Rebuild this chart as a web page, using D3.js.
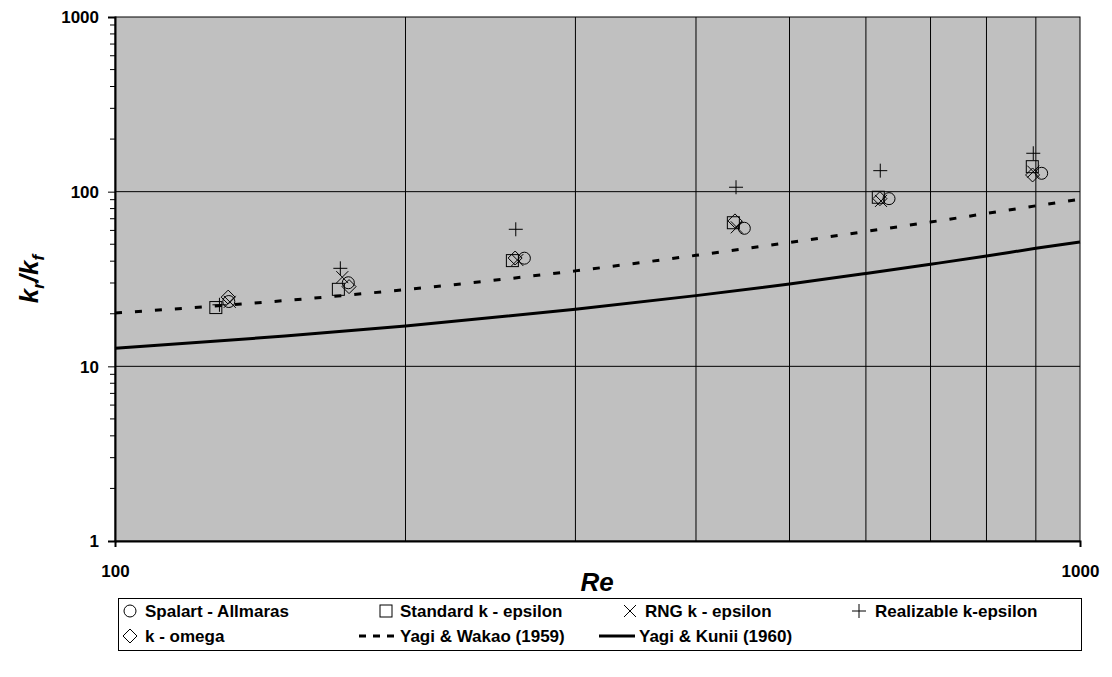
<!DOCTYPE html>
<meta charset="utf-8">
<style>
body { margin: 0; background: #fff; }
text { font-family: "Liberation Sans", Arial, sans-serif; font-weight: bold; fill: #000; }
.grid line { stroke: #000; stroke-width: 1; }
.mark { fill: none; stroke: #000; stroke-width: 1; }
</style>
<div class="chart"></div>
<script src="https://cdnjs.cloudflare.com/ajax/libs/d3/7.8.5/d3.min.js"></script>
<script>

// Reynolds numbers of the CFD runs (one group per case)
var spalartRe  = [131.2, 174.5, 265.6, 448.9, 634.0, 912.6];
var spalartK   = [23.5, 30.1, 41.6, 61.7, 91.2, 127.4];
var standardRe = [127.2, 170.4, 258.1, 437.3, 618.0, 892.4];
var standardK  = [21.7, 27.6, 40.3, 66.4, 92.9, 139.0];
var rngRe      = [131.5, 172.0, 261.2, 440.9, 622.0, 894.5];
var rngK       = [23.4, 32.4, 40.6, 62.5, 88.5, 130.2];
var realRe     = [128.3, 171.2, 260.2, 440.1, 620.9, 894.5];
var realK      = [22.5, 36.4, 60.9, 106.0, 131.9, 165.9];
var omegaRe    = [131.0, 174.8, 259.8, 439.0, 620.4, 893.0];
var omegaK     = [24.9, 28.6, 41.7, 68.0, 91.2, 124.6];

// correlations
var corrRe   = [100, 150, 200, 300, 400, 500, 600, 700, 800, 900, 1000];
var wakaoK   = [20.2, 23.8, 27.5, 35.2, 43.2, 51.2, 59.2, 67.0, 75.0, 83.0, 90.5];
var kuniiK   = [12.7, 14.9, 17.0, 21.2, 25.4, 29.6, 34.0, 38.4, 42.8, 47.4, 51.5];

var yTicks = [1, 10, 100, 1000];
var xTicks = [100, 1000];
var xGrid  = [200, 300, 400, 500, 600, 700, 800, 900];
var yGrid  = [10, 100];

var width = 1112, height = 677;
var pLeft = 115, pRight = 1080, pTop = 17, pBottom = 541;

var svg = d3.select(".chart").append("svg")
    .attr("width", width)
    .attr("height", height);

var x = d3.scaleLog().domain([100, 1000]).range([pLeft, pRight]);
var y = d3.scaleLog().domain([1, 1000]).range([pBottom, pTop]);

// plot background
svg.append("rect")
    .attr("x", pLeft).attr("y", pTop)
    .attr("width", pRight - pLeft).attr("height", pBottom - pTop)
    .attr("fill", "#c0c0c0");

// grid lines
var grid = svg.append("g").attr("class", "grid");
grid.selectAll(".gx").data(xGrid).enter().append("line")
    .attr("x1", function(d) { return x(d); }).attr("x2", function(d) { return x(d); })
    .attr("y1", pTop).attr("y2", pBottom);
grid.selectAll(".gy").data(yGrid).enter().append("line")
    .attr("x1", pLeft).attr("x2", pRight)
    .attr("y1", function(d) { return y(d); }).attr("y2", function(d) { return y(d); });

// border
svg.append("rect")
    .attr("x", pLeft).attr("y", pTop)
    .attr("width", pRight - pLeft).attr("height", pBottom - pTop)
    .attr("fill", "none").attr("stroke", "#000").attr("stroke-width", 1);

// y axis: major + minor ticks
var yMinor = [];
for (var dec = 1; dec < 1000; dec *= 10) {
  for (var m = 2; m <= 9; m++) yMinor.push(dec * m);
}
var yAxis = svg.append("g")
    .attr("transform", "translate(" + pLeft + ",0)")
    .call(d3.axisLeft(y).tickValues(yTicks).tickSize(7).tickFormat(d3.format("d")));
yAxis.selectAll("text").attr("x", -16).attr("dy", "0.35em").style("font-size", "17px");
yAxis.select(".domain").attr("stroke-width", 2);
yAxis.selectAll(".minor").data(yMinor).enter().append("line")
    .attr("x1", -5).attr("x2", 0)
    .attr("y1", function(d) { return y(d); }).attr("y2", function(d) { return y(d); })
    .attr("stroke", "#000");

// x axis
var xAxis = svg.append("g")
    .attr("transform", "translate(0," + pBottom + ")")
    .call(d3.axisBottom(x).tickValues(xTicks).tickSize(6).tickFormat(d3.format("d")));
xAxis.selectAll("text").attr("y", 24).style("font-size", "17px");
xAxis.select(".domain").attr("stroke-width", 2);
svg.selectAll(".tick line").attr("stroke", "#000");
svg.selectAll(".domain").attr("stroke", "#000");

// axis titles
svg.append("text")
    .attr("x", 597).attr("y", 591)
    .attr("text-anchor", "middle")
    .style("font-size", "26px").style("font-style", "italic")
    .text("Re");

var yt = svg.append("text")
    .attr("transform", "translate(38," + ((pTop + pBottom) / 2) + ") rotate(-90)")
    .attr("text-anchor", "middle")
    .style("font-size", "26px").style("font-style", "italic");
yt.append("tspan").text("k");
yt.append("tspan").attr("dy", 6).style("font-size", "17px").text("r");
yt.append("tspan").attr("dy", -6).text("/k");
yt.append("tspan").attr("dy", 6).style("font-size", "17px").text("f");

// correlation curves
var line = d3.line().curve(d3.curveMonotoneX);
var plot = svg.append("g");
plot.append("path")
    .attr("d", line(corrRe.map(function(d, i) { return [x(d), y(wakaoK[i])]; })))
    .attr("fill", "none").attr("stroke", "#000").attr("stroke-width", 3)
    .attr("stroke-dasharray", "7,13");
plot.append("path")
    .attr("d", line(corrRe.map(function(d, i) { return [x(d), y(kuniiK[i])]; })))
    .attr("fill", "none").attr("stroke", "#000").attr("stroke-width", 3);

// marker shapes
function drawMarker(g, kind, cx, cy) {
  if (kind === "circle") {
    g.append("circle").attr("class", "mark").attr("cx", cx).attr("cy", cy).attr("r", 6);
  } else if (kind === "square") {
    g.append("rect").attr("class", "mark").attr("x", cx - 6).attr("y", cy - 6).attr("width", 12).attr("height", 12);
  } else if (kind === "diamond") {
    g.append("path").attr("class", "mark")
        .attr("d", "M" + cx + "," + (cy - 7) + "L" + (cx + 7) + "," + cy + "L" + cx + "," + (cy + 7) + "L" + (cx - 7) + "," + cy + "Z");
  } else if (kind === "cross") {
    g.append("path").attr("class", "mark")
        .attr("d", "M" + (cx - 6) + "," + (cy - 6) + "L" + (cx + 6) + "," + (cy + 6) + "M" + (cx + 6) + "," + (cy - 6) + "L" + (cx - 6) + "," + (cy + 6));
  } else if (kind === "plus") {
    g.append("path").attr("class", "mark")
        .attr("d", "M" + (cx - 7) + "," + cy + "L" + (cx + 7) + "," + cy + "M" + cx + "," + (cy - 7) + "L" + cx + "," + (cy + 7));
  }
}

var series = [
  {kind: "circle",  re: spalartRe,  k: spalartK},
  {kind: "square",  re: standardRe, k: standardK},
  {kind: "cross",   re: rngRe,      k: rngK},
  {kind: "plus",    re: realRe,     k: realK},
  {kind: "diamond", re: omegaRe,    k: omegaK}
];
series.forEach(function(s) {
  s.re.forEach(function(d, i) { drawMarker(plot, s.kind, x(d), y(s.k[i])); });
});

// legend
var legend = svg.append("g");
legend.append("rect")
    .attr("x", 118.5).attr("y", 598.5).attr("width", 963).attr("height", 52)
    .attr("fill", "#fff").attr("stroke", "#000").attr("stroke-width", 1);

var legendItems = [
  {kind: "circle",  label: "Spalart - Allmaras",   sx: 130, tx: 145, row: 0},
  {kind: "square",  label: "Standard k - epsilon", sx: 386, tx: 400, row: 0},
  {kind: "cross",   label: "RNG k - epsilon",      sx: 630, tx: 645, row: 0},
  {kind: "plus",    label: "Realizable k-epsilon", sx: 859, tx: 875, row: 0},
  {kind: "diamond", label: "k - omega",            sx: 130, tx: 145, row: 1},
  {kind: "dash",    label: "Yagi & Wakao (1959)",  sx: 376, tx: 400, row: 1},
  {kind: "solid",   label: "Yagi & Kunii (1960)",  sx: 617, tx: 639, row: 1}
];
legendItems.forEach(function(d) {
  var cy = d.row === 0 ? 611 : 636;
  if (d.kind === "dash") {
    legend.append("line").attr("x1", d.sx - 17).attr("x2", d.sx + 18).attr("y1", cy).attr("y2", cy)
        .attr("stroke", "#000").attr("stroke-width", 3).attr("stroke-dasharray", "7,7");
  } else if (d.kind === "solid") {
    legend.append("line").attr("x1", d.sx - 18).attr("x2", d.sx + 18).attr("y1", cy).attr("y2", cy)
        .attr("stroke", "#000").attr("stroke-width", 3);
  } else {
    drawMarker(legend, d.kind, d.sx, cy);
  }
  legend.append("text").attr("x", d.tx).attr("y", cy).attr("dy", "0.35em")
      .style("font-size", "17px").text(d.label);
});

</script>
